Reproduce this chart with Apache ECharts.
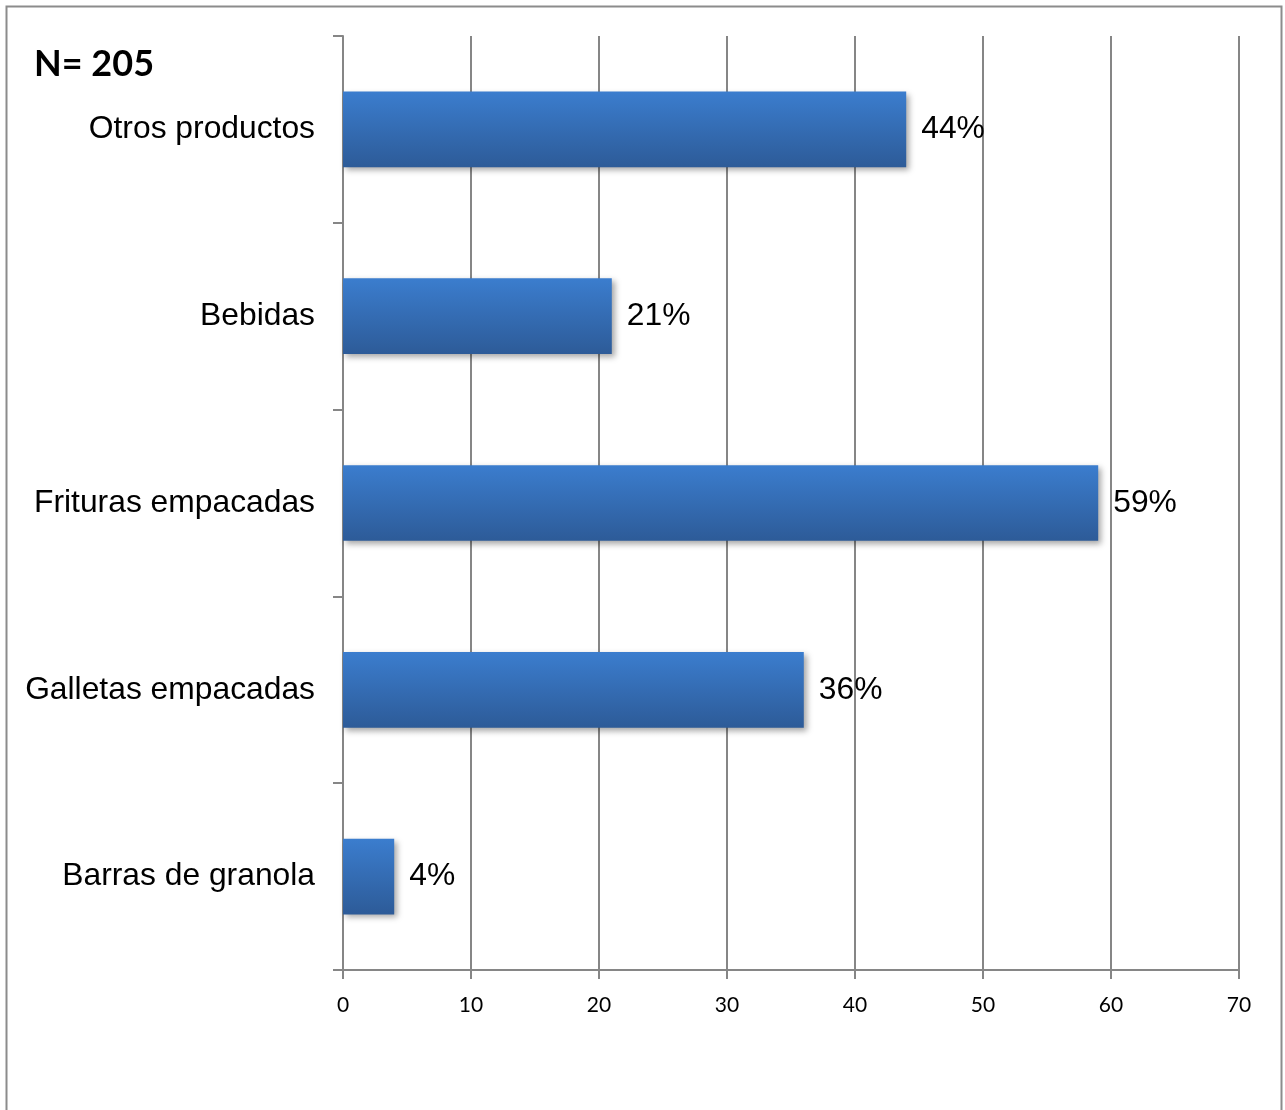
<!DOCTYPE html>
<html>
<head>
<meta charset="utf-8">
<script src="https://cdn.jsdelivr.net/npm/echarts@6/dist/echarts.min.js"></script>
<style>
html,body{margin:0;padding:0;background:#fff;}
#c{width:1285px;height:1110px;}
</style>
</head>
<body>
<div id="c"></div>
<script>
var categories = ['Barras de granola', 'Galletas empacadas', 'Frituras empacadas', 'Bebidas', 'Otros productos'];
var values = [4, 36, 59, 21, 44];
var xTicks = [0, 10, 20, 30, 40, 50, 60, 70];
var titleText = 'N= 205';

var chart = echarts.init(document.getElementById('c'), null, {renderer: 'canvas'});
chart.setOption({
  animation: false,
  backgroundColor: '#ffffff',
  title: {
    text: titleText,
    left: 29, top: 41,
    textStyle: {fontFamily: 'Lato', fontWeight: 'bold', fontSize: 36, color: '#000'}
  },
  graphic: [{
    type: 'rect',
    shape: {x: 6.5, y: 6.5, width: 1275, height: 1120},
    style: {fill: 'none', stroke: '#8c8c8c', lineWidth: 2},
    silent: true
  }],
  grid: {left: 343, right: 46, top: 36, bottom: 140},
  xAxis: {
    type: 'value',
    min: xTicks[0], max: xTicks[xTicks.length - 1], interval: 10,
    axisLine: {show: true, lineStyle: {color: '#868686', width: 2}},
    axisTick: {show: true, length: 9, lineStyle: {color: '#868686', width: 2}},
    axisLabel: {fontFamily: 'Lato', fontSize: 21, color: '#000', margin: 25},
    splitLine: {show: true, lineStyle: {color: '#868686', width: 2}}
  },
  yAxis: {
    type: 'category',
    data: categories,
    axisLine: {show: true, lineStyle: {color: '#868686', width: 2}},
    axisTick: {show: true, length: 10, lineStyle: {color: '#868686', width: 2}},
    axisLabel: {fontFamily: 'Liberation Sans', fontSize: 31.8, color: '#000', margin: 28, padding: [8, 0, 0, 0]}
  },
  series: [{
    type: 'bar',
    data: values,
    barWidth: '40.5%',
    itemStyle: {
      color: new echarts.graphic.LinearGradient(0, 0, 0, 1, [
        {offset: 0, color: '#3b7dce'},
        {offset: 1, color: '#2d5b98'}
      ]),
      shadowColor: 'rgba(0,0,0,0.35)',
      shadowBlur: 6,
      shadowOffsetX: 3,
      shadowOffsetY: 3
    },
    label: {
      show: true,
      position: 'right',
      distance: 15,
      formatter: '{c}%',
      fontFamily: 'Liberation Sans',
      fontSize: 31.8,
      color: '#000',
      padding: [8, 0, 0, 0]
    }
  }]
});
</script>
</body>
</html>
